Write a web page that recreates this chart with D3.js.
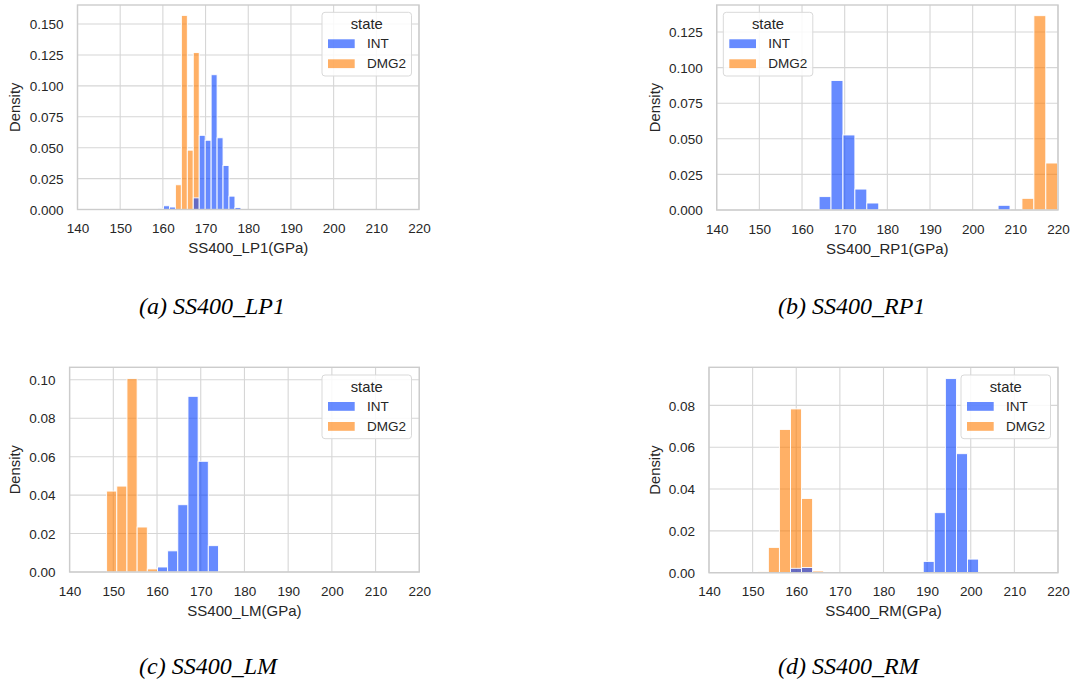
<!DOCTYPE html>
<html>
<head>
<meta charset="utf-8">
<script src="https://cdn.jsdelivr.net/npm/d3@7"></script>
<style>
  html, body { margin: 0; padding: 0; background: #ffffff; }
  svg { display: block; }
</style>
</head>
<body>
<svg id="chart" width="1072" height="686"></svg>
<script>
// ---------------- DATA ----------------
const states = ["INT", "DMG2"];
const xTicks = [140, 150, 160, 170, 180, 190, 200, 210, 220];

// (a) SS400_LP1
const lp1BinStart = 158.75;
const lp1BinWidth = 1.395;
const lp1INT  = [0.0008, 0.003, 0.002, 0, 0, 0, 0.0094, 0.060, 0.056, 0.109, 0.058, 0.0356, 0.0108, 0.0016];
const lp1DMG2 = [0, 0, 0, 0.020, 0.157, 0.048, 0.127, 0, 0, 0, 0, 0, 0, 0];
const lp1YTicks = [0.000, 0.025, 0.050, 0.075, 0.100, 0.125, 0.150];

// (b) SS400_RP1
const rp1BinStart = 164.0;
const rp1BinWidth = 2.797;
const rp1INT  = [0.0094, 0.091, 0.0527, 0.0147, 0.0049, 0, 0, 0, 0, 0, 0, 0, 0, 0, 0, 0.0033, 0, 0, 0, 0];
const rp1DMG2 = [0, 0, 0, 0, 0, 0, 0, 0, 0, 0, 0, 0, 0, 0, 0, 0, 0, 0.0082, 0.1365, 0.033];
const rp1YTicks = [0.000, 0.025, 0.050, 0.075, 0.100, 0.125];

// (c) SS400_LM
const lmBinStart = 148.47;
const lmBinWidth = 2.326;
const lmINT  = [0, 0, 0, 0, 0, 0.0026, 0.011, 0.035, 0.0914, 0.0576, 0.0137];
const lmDMG2 = [0.0421, 0.0447, 0.1006, 0.0234, 0.0016, 0, 0, 0, 0, 0, 0];
const lmYTicks = [0.00, 0.02, 0.04, 0.06, 0.08, 0.10];

// (d) SS400_RM
const rmBinStart = 151.07;
const rmBinWidth = 2.536;
const rmINT  = [0, 0, 0, 0.0021, 0.0025, 0, 0, 0, 0, 0, 0, 0, 0, 0, 0, 0.0054, 0.0287, 0.0928, 0.0569, 0.0065];
const rmDMG2 = [0.0006, 0.0121, 0.0685, 0.0783, 0.0355, 0.0008, 0, 0, 0, 0, 0, 0, 0, 0, 0, 0, 0, 0, 0, 0];
const rmYTicks = [0.00, 0.02, 0.04, 0.06, 0.08];

// ---------------- STYLE / LAYOUT ----------------
const colors = { INT: "rgba(2,62,255,0.6)", DMG2: "rgba(255,124,0,0.6)" };
const gridColor = "#d6d6d6";
const spineColor = "#cccccc";
const textColor = "#262626";
const sans = "'Liberation Sans', Arial, Helvetica, sans-serif";
const serif = "'Liberation Serif', 'Times New Roman', serif";

const panels = [
  { name: "SS400_LP1", start: lp1BinStart, width: lp1BinWidth, INT: lp1INT, DMG2: lp1DMG2, yTicks: lp1YTicks, fmt: ".3f",
    x0: 77.5, x1: 419, y0: 5, y1: 209.5, ymax: 0.1654, densX: 15,
    legend: { x: 322, y: 12.3 }, caption: { x: 139, y: 314, text: "(a) SS400_LP1" } },
  { name: "SS400_RP1", start: rp1BinStart, width: rp1BinWidth, INT: rp1INT, DMG2: rp1DMG2, yTicks: rp1YTicks, fmt: ".3f",
    x0: 716.7, x1: 1058, y0: 5, y1: 210, ymax: 0.1440, densX: 655,
    legend: { x: 723.3, y: 12.3 }, caption: { x: 778, y: 314, text: "(b) SS400_RP1" } },
  { name: "SS400_LM", start: lmBinStart, width: lmBinWidth, INT: lmINT, DMG2: lmDMG2, yTicks: lmYTicks, fmt: ".2f",
    x0: 69.6, x1: 419.3, y0: 367.3, y1: 572, ymax: 0.1065, densX: 15,
    legend: { x: 322, y: 375 }, caption: { x: 139, y: 674, text: "(c) SS400_LM" } },
  { name: "SS400_RM", start: rmBinStart, width: rmBinWidth, INT: rmINT, DMG2: rmDMG2, yTicks: rmYTicks, fmt: ".2f",
    x0: 709, x1: 1058, y0: 367.3, y1: 572.7, ymax: 0.0982, densX: 655,
    legend: { x: 961, y: 375 }, caption: { x: 778, y: 674, text: "(d) SS400_RM" } }
];

const svg = d3.select("#chart");

panels.forEach(p => {
  const x = d3.scaleLinear().domain([140, 220]).range([p.x0, p.x1]);
  const y = d3.scaleLinear().domain([0, p.ymax]).range([p.y1, p.y0]);
  const g = svg.append("g");

  // grid
  g.selectAll(".vg").data(xTicks).enter().append("line")
    .attr("x1", d => x(d)).attr("x2", d => x(d))
    .attr("y1", p.y0).attr("y2", p.y1)
    .attr("stroke", gridColor).attr("stroke-width", 1.1);
  g.selectAll(".hg").data(p.yTicks).enter().append("line")
    .attr("x1", p.x0).attr("x2", p.x1)
    .attr("y1", d => y(d)).attr("y2", d => y(d))
    .attr("stroke", gridColor).attr("stroke-width", 1.1);

  // bars: DMG2 drawn first, INT on top
  ["DMG2", "INT"].forEach(s => {
    const vals = p[s].map((v, i) => ({ i, v })).filter(d => d.v > 0);
    g.selectAll(".bar-" + s).data(vals).enter().append("rect")
      .attr("x", d => x(p.start + d.i * p.width))
      .attr("width", d => x(p.start + (d.i + 1) * p.width) - x(p.start + d.i * p.width))
      .attr("y", d => y(d.v))
      .attr("height", d => y(0) - y(d.v))
      .attr("fill", colors[s])
      .attr("stroke", "#ffffff")
      .attr("stroke-width", 0.9);
  });

  // spines
  g.append("rect")
    .attr("x", p.x0).attr("y", p.y0)
    .attr("width", p.x1 - p.x0).attr("height", p.y1 - p.y0)
    .attr("fill", "none").attr("stroke", spineColor).attr("stroke-width", 1.4);

  // axes (tick labels only)
  const xAxis = d3.axisBottom(x).tickValues(xTicks).tickSize(0).tickPadding(0).tickFormat(d3.format("d"));
  const xa = g.append("g").attr("transform", `translate(0,${p.y1})`).call(xAxis);
  xa.select(".domain").remove();
  xa.selectAll("text").attr("dy", null).attr("y", 23.5)
    .attr("font-family", sans).attr("font-size", 13.5).attr("fill", textColor);

  const yAxis = d3.axisLeft(y).tickValues(p.yTicks).tickSize(0).tickPadding(0).tickFormat(d3.format(p.fmt));
  const ya = g.append("g").attr("transform", `translate(${p.x0},0)`).call(yAxis);
  ya.select(".domain").remove();
  ya.selectAll("text").attr("dy", "0.35em").attr("x", -14)
    .attr("font-family", sans).attr("font-size", 13.5).attr("fill", textColor);

  // axis labels
  g.append("text")
    .attr("x", (p.x0 + p.x1) / 2).attr("y", p.y1 + 43.5)
    .attr("text-anchor", "middle")
    .attr("font-family", sans).attr("font-size", 15).attr("fill", textColor)
    .text(p.name + "(GPa)");
  g.append("text")
    .attr("transform", `translate(${p.densX},${(p.y0 + p.y1) / 2}) rotate(-90)`)
    .attr("text-anchor", "middle").attr("dy", "0.35em")
    .attr("font-family", sans).attr("font-size", 14.8).attr("fill", textColor)
    .text("Density");

  // legend
  const L = g.append("g").attr("transform", `translate(${p.legend.x},${p.legend.y})`);
  L.append("rect").attr("width", 89.5).attr("height", 63.7).attr("rx", 3)
    .attr("fill", "rgba(255,255,255,0.85)").attr("stroke", "#d9d9d9").attr("stroke-width", 1);
  L.append("text").attr("x", 44.7).attr("y", 11.7).attr("dy", "0.35em")
    .attr("text-anchor", "middle")
    .attr("font-family", sans).attr("font-size", 14.8).attr("fill", textColor)
    .text("state");
  states.forEach((s, i) => {
    const cy = 31.4 + i * 20;
    L.append("rect").attr("x", 6).attr("y", cy - 4.4).attr("width", 26.7).attr("height", 8.8)
      .attr("fill", colors[s]);
    L.append("text").attr("x", 45).attr("y", cy).attr("dy", "0.35em")
      .attr("font-family", sans).attr("font-size", 13.5).attr("fill", textColor)
      .text(s);
  });

  // caption
  svg.append("text")
    .attr("x", p.caption.x).attr("y", p.caption.y)
    .attr("font-family", serif).attr("font-style", "italic").attr("font-size", 24)
    .attr("fill", "#000000")
    .text(p.caption.text);
});
</script>
</body>
</html>
